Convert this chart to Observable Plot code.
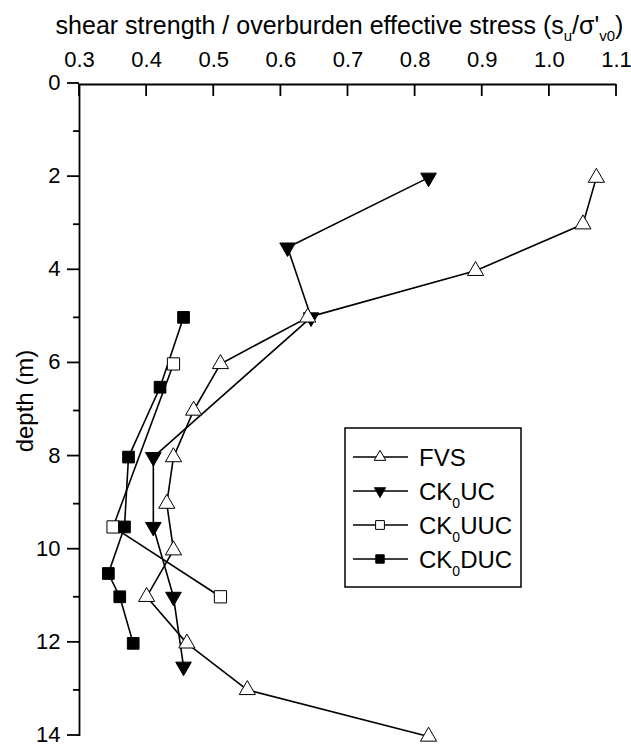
<!DOCTYPE html>
<html><head><meta charset="utf-8">
<script src="https://cdn.jsdelivr.net/npm/d3@7"></script>
<script src="https://cdn.jsdelivr.net/npm/@observablehq/plot@0.6"></script>
<style>
body{margin:0;background:#fff;}
#wrap{position:relative;width:631px;height:744px;font-family:"Liberation Sans",Arial,sans-serif;color:#000;}
#title{position:absolute;left:48px;width:583px;top:11px;text-align:center;font-size:25px;line-height:28px;white-space:nowrap;}
#title sub{font-size:15px;vertical-align:-7px;line-height:0;}
#overlay{position:absolute;left:0;top:0;pointer-events:none;}
</style>
</head><body>
<div id="wrap">
  <div id="chart"></div>
  <div id="title">shear strength / overburden effective stress (s<sub>u</sub>/σ'<sub>v0</sub>)</div>
</div>
<script>
// ---- data ----
const seriesNames = ["FVS", "CK0UC", "CK0UUC", "CK0DUC"];
const fvsDepth = [2, 3, 4, 5, 6, 7, 8, 9, 10, 11, 12, 13, 14];
const fvsRatio = [1.07, 1.05, 0.89, 0.64, 0.51, 0.47, 0.44, 0.43, 0.44, 0.40, 0.46, 0.55, 0.82];
const ucDepth = [2, 3.5, 5, 8, 9.5, 11, 12.5];
const ucRatio = [0.82, 0.61, 0.645, 0.41, 0.41, 0.44, 0.455];
const uucDepth = [6, 9.5, 11];
const uucRatio = [0.44, 0.35, 0.51];
const ducDepth = [5, 6.5, 8, 9.5, 10.5, 11, 12];
const ducRatio = [0.455, 0.42, 0.373, 0.367, 0.343, 0.36, 0.38];
const xTicks = [0.3, 0.4, 0.5, 0.6, 0.7, 0.8, 0.9, 1.0, 1.1];
const yMajor = [0, 2, 4, 6, 8, 10, 12, 14];
const yMinor = [1, 3, 5, 7, 9, 11, 13];

function rows(name, depth, ratio) {
  return depth.map((d, i) => ({series: name, depth: d, ratio: ratio[i]}));
}
const fvs = rows("FVS", fvsDepth, fvsRatio);
const uc = rows("CK0UC", ucDepth, ucRatio);
const uuc = rows("CK0UUC", uucDepth, uucRatio);
const duc = rows("CK0DUC", ducDepth, ducRatio);

const triUp = {draw(ctx, size) {
  const s = Math.sqrt(size / (Math.sqrt(3) / 4)), h = s * Math.sqrt(3) / 2;
  ctx.moveTo(0, -2 * h / 3); ctx.lineTo(s / 2, h / 3); ctx.lineTo(-s / 2, h / 3); ctx.closePath();
}};
const triDown = {draw(ctx, size) {
  const s = Math.sqrt(size / (Math.sqrt(3) / 4)), h = s * Math.sqrt(3) / 2;
  ctx.moveTo(0, 2 * h / 3); ctx.lineTo(s / 2, -h / 3); ctx.lineTo(-s / 2, -h / 3); ctx.closePath();
}};
const sq = {draw(ctx, size) { const s = Math.sqrt(size); ctx.rect(-s / 2, -s / 2, s, s); }};

const styles = {
  FVS: {symbol: triUp, fill: "white", r: 6},
  CK0UC: {symbol: triDown, fill: "black", r: 5.8},
  CK0UUC: {symbol: sq, fill: "white", r: 6.9},
  CK0DUC: {symbol: sq, fill: "black", r: 6.6}
};

const lineOpts = {x: "ratio", y: "depth", stroke: "black", strokeWidth: 1.6};
const dotOpts = (name) => ({x: "ratio", y: "depth", symbol: styles[name].symbol, r: styles[name].r,
  fill: styles[name].fill, stroke: "black", strokeWidth: 1});

const W = 631, H = 744, MT = 84, MB = 8;
const chart = Plot.plot({
  width: W, height: H,
  marginTop: MT, marginLeft: 79, marginRight: 15, marginBottom: MB,
  style: {fontFamily: "'Liberation Sans', Arial, sans-serif", fontSize: "22px"},
  x: {domain: [0.3, 1.1]},
  y: {domain: [0, 14], reverse: true},
  marks: [
    Plot.ruleY([0], {stroke: "black", strokeWidth: 1.8}),
    Plot.ruleX([0.3], {stroke: "black", strokeWidth: 1.8}),
    Plot.axisX(xTicks, {anchor: "top", tickSize: 0, tickPadding: 18, tickFormat: d => d.toFixed(1),
      fontSize: 22, label: null}),
    Plot.axisY(yMajor, {anchor: "left", tickSize: 12, tickPadding: 7, fontSize: 22, dy: -1.5, label: null,
      stroke: "black", strokeWidth: 1.8}),
    Plot.axisY(yMinor, {anchor: "left", tickSize: 6, text: null, label: null, stroke: "black", strokeWidth: 1.8}),
    Plot.line(fvs, lineOpts),
    Plot.line(uc, lineOpts),
    Plot.line(uuc, lineOpts),
    Plot.line(duc, lineOpts),
    Plot.dot(uc, dotOpts("CK0UC")),
    Plot.dot(fvs, dotOpts("FVS")),
    Plot.dot(uuc, dotOpts("CK0UUC")),
    Plot.dot(duc, dotOpts("CK0DUC"))
  ]
});
document.getElementById("chart").appendChild(chart);

// ---- overlay: inward top-axis ticks (via Plot's scales), y label and legend ----
const xs = chart.scale("x"), ys = chart.scale("y");
const ov = d3.select("#wrap").append("svg").attr("id", "overlay")
  .attr("width", W).attr("height", H)
  .style("font-family", "'Liberation Sans', Arial, sans-serif");

const y0 = ys.apply(0);
ov.append("g").selectAll("line").data(xTicks).join("line")
  .attr("x1", d => xs.apply(d)).attr("x2", d => xs.apply(d))
  .attr("y1", y0).attr("y2", y0 + 12)
  .attr("stroke", "black").attr("stroke-width", 1.8);

ov.append("text").attr("transform", "translate(33,401) rotate(-90)")
  .attr("text-anchor", "middle").attr("font-size", 24).text("depth (m)");

const lg = ov.append("g").attr("transform", "translate(345,428)");
lg.append("rect").attr("width", 176).attr("height", 159).attr("fill", "white")
  .attr("stroke", "black").attr("stroke-width", 1.5);
const legendLabels = [["FVS"], ["CK", "0", "UC"], ["CK", "0", "UUC"], ["CK", "0", "DUC"]];
seriesNames.forEach((name, i) => {
  const yy = 29 + i * 34;
  const row = lg.append("g").attr("transform", `translate(0,${yy})`);
  row.append("line").attr("x1", 8).attr("x2", 63).attr("stroke", "black").attr("stroke-width", 1.5);
  const p = d3.path();
  const r = styles[name].r * 0.72;
  styles[name].symbol.draw(p, Math.PI * r * r);
  row.append("path").attr("transform", "translate(35,0)").attr("d", p.toString())
    .attr("fill", styles[name].fill).attr("stroke", "black").attr("stroke-width", 1);
  const t = row.append("text").attr("x", 74).attr("y", 8.5).attr("font-size", 24);
  const parts = legendLabels[i];
  t.append("tspan").text(parts[0]);
  if (parts.length > 1) {
    t.append("tspan").attr("font-size", 14).attr("dy", 8).text(parts[1]);
    t.append("tspan").attr("dy", -8).text(parts[2]);
  }
});
</script>
</body></html>
